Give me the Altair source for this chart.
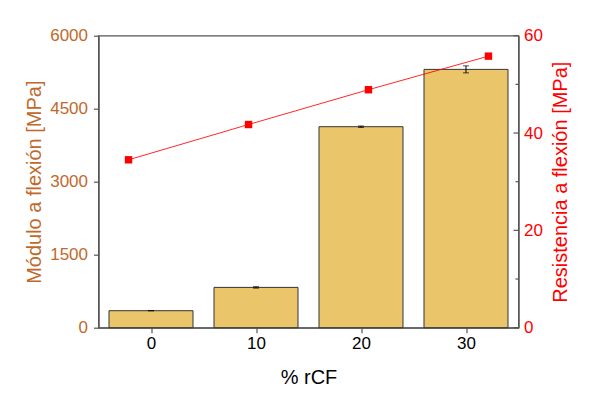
import altair as alt
import pandas as pd

# ---- data ----
rcf = [0, 10, 20, 30]
modulo = [349, 828, 4130, 5308]
modulo_err = [0, 15, 15, 72]
resist_x = [-2.14, 9.29, 20.71, 32.14]
resist = [34.5, 41.75, 48.9, 55.8]
left_ticks = [0, 750, 1500, 2250, 3000, 3750, 4500, 5250, 6000]
right_major = [0, 20, 40, 60]
right_minor = [10, 30, 50]

bars_df = pd.DataFrame({
    "rcf": rcf,
    "mod": modulo,
    "lo": [m - e for m, e in zip(modulo, modulo_err)],
    "hi": [m + e for m, e in zip(modulo, modulo_err)],
})
line_df = pd.DataFrame({"x": resist_x, "r": resist})
major_df = pd.DataFrame({"v": right_major})
minor_df = pd.DataFrame({"v": right_minor})

FONT = "Liberation Sans"
ORANGE = "#C0692B"
RED = "#FF0000"
GREY = "#555555"
W, H = 420, 292

x_scale = alt.Scale(domain=[-5, 35], nice=False, zero=False, padding=0)
x_axis = alt.Axis(
    values=rcf, title="% rCF", labelFontSize=17, labelColor="black",
    labelFont=FONT, titleFont=FONT, titleFontSize=20, titleColor="black",
    titleFontWeight="normal", tickSize=5, tickColor=GREY, domainColor=GREY,
    domainWidth=1.3, tickWidth=1.2, labelPadding=3, grid=False,
    titleY=55.5, titleBaseline="alphabetic",
)

def X(field):
    return alt.X(f"{field}:Q", scale=x_scale, axis=x_axis, title="% rCF")

yl_scale = alt.Scale(domain=[0, 6000], nice=False, zero=True)
yl_axis = alt.Axis(
    values=left_ticks, orient="left", title="Módulo a flexión [MPa]", format="d",
    labelExpr="datum.value % 1500 === 0 ? datum.label : ''",
    labelFontSize=17, labelColor=ORANGE, labelFont=FONT,
    titleFont=FONT, titleFontSize=20, titleColor=ORANGE, titleFontWeight="normal",
    tickSize={"condition": {"test": "datum.value % 1500 === 0", "value": 5}, "value": 3},
    tickColor=GREY, tickWidth=1.2, domainColor=GREY, domainWidth=1.3,
    labelPadding=6, grid=False, titleX=-58, titleBaseline="alphabetic",
)

yr_scale = alt.Scale(domain=[0, 60], nice=False, zero=True)
yr_axis = alt.Axis(
    values=right_major, orient="right", title="Resistencia a flexión [MPa]",
    format="d", labelFontSize=17, labelColor=RED, labelFont=FONT,
    titleFont=FONT, titleFontSize=20, titleColor=RED, titleFontWeight="normal",
    ticks=False, tickSize=0, domainColor=GREY, domainWidth=1.3,
    labelPadding=5, grid=False, titleAngle=270, titleX=48,
    titleBaseline="alphabetic",
)

def YR(field):
    return alt.Y(f"{field}:Q", scale=yr_scale, axis=yr_axis,
                 title="Resistencia a flexión [MPa]")

base = alt.Chart(bars_df)
bars = base.mark_bar(size=84, color="#EBC56A", stroke="#333333", strokeWidth=1).encode(
    x=X("rcf"),
    y=alt.Y("mod:Q", scale=yl_scale, axis=yl_axis, title="Módulo a flexión [MPa]"),
)
err = base.mark_rule(color="black", strokeWidth=1).encode(
    x=X("rcf"), y=alt.Y("lo:Q", scale=yl_scale), y2="hi:Q"
)
cap_hi = base.mark_tick(orient="horizontal", size=6, thickness=1, color="black").encode(
    x=X("rcf"), y=alt.Y("hi:Q", scale=yl_scale)
)
cap_lo = base.mark_tick(orient="horizontal", size=6, thickness=1, color="black").encode(
    x=X("rcf"), y=alt.Y("lo:Q", scale=yl_scale)
)
left_layer = alt.layer(bars, err, cap_hi, cap_lo)

lbase = alt.Chart(line_df)
line = lbase.mark_line(color=RED, strokeWidth=1, opacity=0.85).encode(x=X("x"), y=YR("r"))
pts = lbase.mark_point(shape="square", filled=True, color=RED, size=55, opacity=1).encode(
    x=X("x"), y=YR("r")
)
maj = alt.Chart(major_df).mark_rule(color=GREY, strokeWidth=1.2).encode(
    y=YR("v"), x=alt.value(W - 5), x2=alt.value(W)
)
mino = alt.Chart(minor_df).mark_rule(color=GREY, strokeWidth=1.2).encode(
    y=YR("v"), x=alt.value(W - 3), x2=alt.value(W)
)
right_layer = alt.layer(line, pts, maj, mino)

chart = alt.layer(left_layer, right_layer).resolve_scale(y="independent").properties(
    width=W, height=H,
    autosize=alt.AutoSizeParams(type="none"),
    padding={"left": 90.5, "top": 27.7, "right": 73.5, "bottom": 62},
    background="white",
).configure_view(stroke=GREY, strokeWidth=1.3)

chart.save("out.html", embed_options={"renderer": "svg", "actions": False})
